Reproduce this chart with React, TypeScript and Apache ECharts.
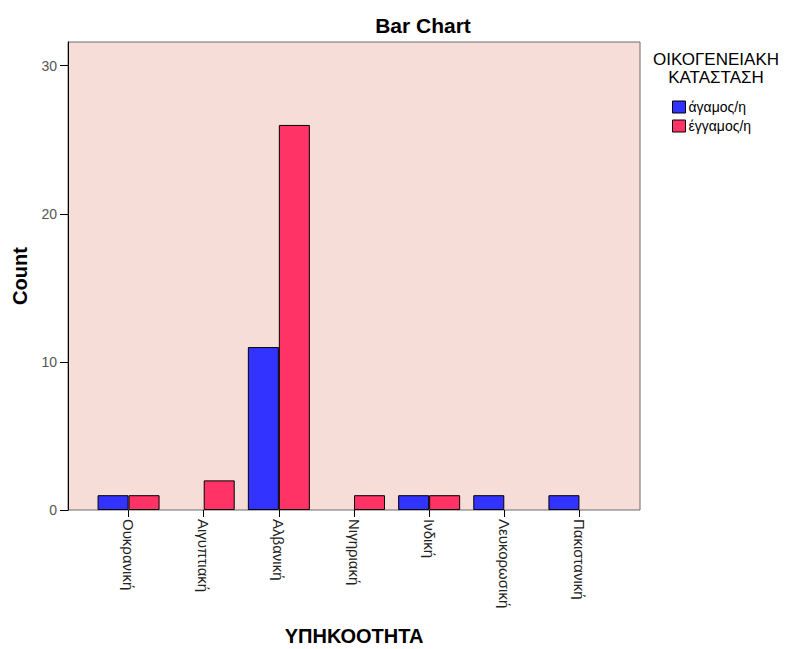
import React, { useEffect, useRef } from "react";
import * as echarts from "echarts";

const categories = ["Ουκρανική", "Αιγυπτιακή", "Αλβανική", "Νιγηριακή", "Ινδική", "Λευκορωσική", "Πακιστανική"];
const singleValues = [1, 0, 11, 0, 1, 1, 1];
const marriedValues = [1, 2, 26, 1, 1, 0, 0];
const seriesNames = ["άγαμος/η", "έγγαμος/η"];
const yTicks = [0, 10, 20, 30];

const FONT = "'Liberation Sans', Arial, sans-serif";

const hideZero = (arr: number[]) => arr.map((v) => (v === 0 ? "-" : v));

export default function App() {
  const ref = useRef<HTMLDivElement>(null);
  useEffect(() => {
    if (!ref.current) return;
    const chart = echarts.init(ref.current, null, { renderer: "svg" });
    chart.setOption({
      animation: false,
      backgroundColor: "#ffffff",
      textStyle: { fontFamily: FONT },
      grid: { left: 91, right: 168, top: 42, bottom: 139, outerBoundsMode: "none", containLabel: false },
      graphic: [
        {
          type: "rect",
          z: 0,
          shape: { x: 68, y: 42, width: 572, height: 468 },
          style: { fill: "#F7DDD8", stroke: "#6b6b6b", lineWidth: 1 },
        },
        {
          type: "text",
          x: 423,
          y: 25,
          style: {
            text: "Bar Chart",
            font: `bold 21px ${FONT}`,
            fill: "#000",
            align: "center",
            verticalAlign: "middle",
          },
        },
        {
          type: "text",
          x: 716,
          y: 50,
          style: {
            text: "ΟΙΚΟΓΕΝΕΙΑΚΗ\nΚΑΤΑΣΤΑΣΗ",
            font: `17px ${FONT}`,
            fill: "#000",
            align: "center",
            lineHeight: 18,
          },
        },
      ],
      legend: {
        orient: "vertical",
        left: 672,
        top: 100,
        padding: 0,
        itemWidth: 13,
        itemHeight: 12,
        itemGap: 5,
        icon: "rect",
        textStyle: { fontSize: 14, color: "#000", fontFamily: FONT, padding: [0, 0, 0, -2] },
        itemStyle: { borderColor: "#000", borderWidth: 1 },
        data: seriesNames,
      },
      xAxis: {
        type: "category",
        data: categories,
        name: "ΥΠΗΚΟΟΤΗΤΑ",
        nameLocation: "middle",
        nameGap: 116,
        nameTextStyle: { fontSize: 20, fontWeight: "bold", color: "#000", fontFamily: FONT },
        axisLine: { show: false },
        axisTick: { show: true, alignWithLabel: true, length: 7, lineStyle: { color: "#000" } },
        axisLabel: { rotate: -90, margin: 9, fontSize: 15, color: "#222", fontFamily: FONT, interval: 0 },
      },
      yAxis: {
        type: "value",
        min: 0,
        max: 31.6,
        interval: 10,
        offset: 23,
        name: "Count",
        nameLocation: "middle",
        nameGap: 38,
        nameTextStyle: { fontSize: 20, fontWeight: "bold", color: "#000", fontFamily: FONT },
        axisLine: { show: true, lineStyle: { color: "#000" } },
        axisTick: { show: true, length: 8, lineStyle: { color: "#000" }, customValues: yTicks },
        axisLabel: { fontSize: 14, color: "#555", margin: 11, fontFamily: FONT, customValues: yTicks },
        splitLine: { show: false },
      },
      series: [
        {
          name: seriesNames[0],
          type: "bar",
          data: hideZero(singleValues),
          barWidth: 31,
          barGap: "0%",
          itemStyle: { color: "#3333FF", borderColor: "#000", borderWidth: 1 },
        },
        {
          name: seriesNames[1],
          type: "bar",
          data: hideZero(marriedValues),
          barWidth: 31,
          barGap: "0%",
          itemStyle: { color: "#FF3366", borderColor: "#000", borderWidth: 1 },
        },
      ],
    });
    return () => chart.dispose();
  }, []);
  return <div ref={ref} style={{ position: "absolute", left: 0, top: 0, width: 785, height: 649 }} />;
}
